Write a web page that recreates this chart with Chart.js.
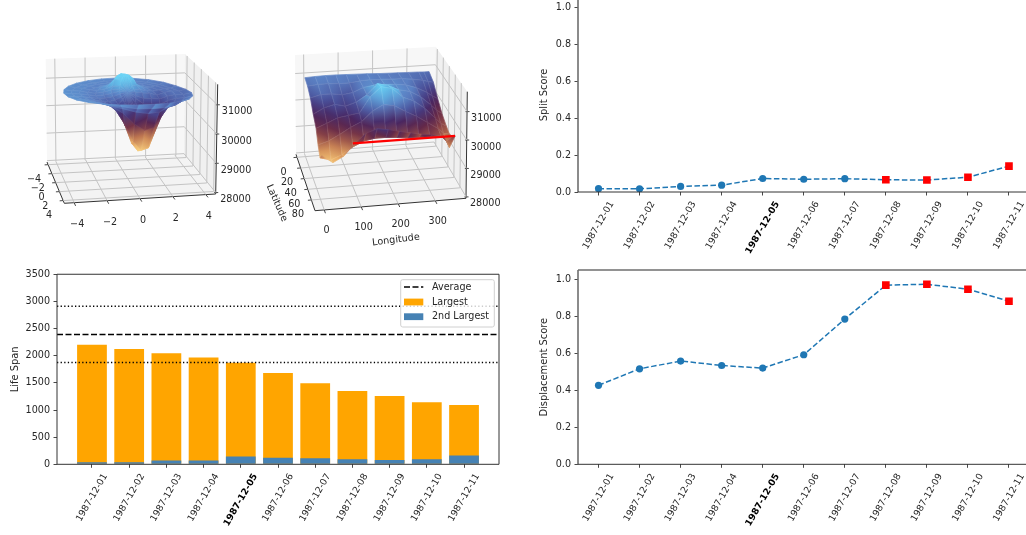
<!DOCTYPE html>
<html>
<head>
<meta charset="utf-8">
<title>Life span and scores</title>
<script src="https://cdn.jsdelivr.net/npm/chart.js@4"></script>
<style>
  html, body { margin: 0; width: 1026px; height: 535px; overflow: hidden; background: #fff; }
  canvas { position: absolute; filter: blur(0.35px); }
</style>
</head>
<body>
<canvas id="polarSurface" width="260" height="265" style="left:0;top:0"></canvas>
<canvas id="globeSurface" width="260" height="265" style="left:260px;top:0"></canvas>
<canvas id="lifeSpan" width="510" height="270" style="left:0;top:265px"></canvas>
<canvas id="splitScore" width="510" height="285" style="left:530px;top:-20px"></canvas>
<canvas id="displacementScore" width="510" height="280" style="left:530px;top:255px"></canvas>
<script>
const dates = ["1987-12-01", "1987-12-02", "1987-12-03", "1987-12-04", "1987-12-05", "1987-12-06",
    "1987-12-07", "1987-12-08", "1987-12-09", "1987-12-10", "1987-12-11"];
const boldDate = 4;
const largest = [2200, 2125, 2045, 1965, 1870, 1680, 1495, 1350, 1260, 1145, 1090];
const secondLargest = [40, 40, 70, 70, 145, 120, 110, 95, 80, 95, 160];
const averageSpan = 2390;
const spanBand = [1875, 2910];
const splitScores = [0.018, 0.017, 0.03, 0.037, 0.073, 0.069, 0.072, 0.066, 0.065, 0.08, 0.14];
const displacementScores = [0.427, 0.516, 0.558, 0.534, 0.52, 0.592, 0.785, 0.968, 0.973, 0.946, 0.881];
const flaggedFrom = 7;

const heightTicks = [28000, 29000, 30000, 31000];
const polarTicks = [-4, -2, 0, 2, 4];
const lonTicks = [0, 100, 200, 300];
const latTicks = [0, 20, 40, 60, 80];

// left surface, heights on rings around the middle
const polarRadii = [0.5, 1, 1.5, 2, 2.5, 3, 3.5, 4];
const polarAngles = [0, 15, 30, 45, 60, 75, 90, 105, 120, 135, 150, 165, 180, 195, 210, 225, 240, 255, 270, 285, 300, 315, 330, 345];
const polarCentre = 30980;
const polarHeights = [
    [30850, 30770, 30640, 30520, 30470, 30470, 30480, 30570, 30670, 30770, 30850, 30950, 31030, 31090, 31185, 31370, 31450, 31500, 31500, 31430, 31330, 31150, 31040, 30960],
    [30740, 30580, 30300, 29900, 29500, 29460, 29750, 30150, 30475, 30655, 30795, 30880, 30960, 31050, 31155, 31370, 31470, 31520, 31500, 31460, 31340, 31115, 30985, 30905],
    [30730, 30580, 30150, 29550, 29180, 29120, 29400, 30000, 30480, 30690, 30780, 30855, 30915, 30965, 31035, 31105, 31180, 31210, 31205, 31150, 31090, 31015, 30925, 30865],
    [30700, 30580, 30250, 29700, 29250, 29200, 29550, 30150, 30580, 30770, 30830, 30880, 30900, 30925, 30970, 31010, 31040, 31060, 31060, 31030, 30980, 30930, 30860, 30775],
    [30785, 30720, 30560, 30300, 30000, 29950, 30200, 30560, 30770, 30850, 30900, 30925, 30950, 30950, 30950, 30950, 30960, 30975, 30975, 30960, 30930, 30900, 30860, 30840],
    [30835, 30805, 30750, 30670, 30580, 30590, 30670, 30790, 30865, 30930, 30950, 30990, 30990, 30990, 30990, 30980, 30970, 30960, 30960, 30950, 30930, 30900, 30870, 30860],
    [30825, 30820, 30810, 30780, 30780, 30810, 30840, 30920, 30965, 31000, 31010, 31010, 31010, 31000, 30990, 30980, 30970, 30965, 30960, 30940, 30920, 30890, 30850, 30840],
    [30880, 30900, 30920, 30950, 30980, 31010, 31030, 31040, 31040, 31040, 31040, 31040, 31040, 31030, 31020, 31010, 31000, 30995, 30990, 30970, 30950, 30920, 30880, 30870],
];

// right surface, heights by latitude and longitude
const surfaceLons = [0, 30, 60, 90, 120, 150, 180, 210, 240, 270, 300, 330, 345, 360];
const surfaceLats = [0, 15, 30, 45, 60, 70, 80, 90];
const surfaceHeights = [
    [30920, 30940, 30950, 30950, 30940, 30930, 30920, 30900, 30890, 30880, 30870, 30860, 30850, 30850],
    [30860, 30900, 30900, 30880, 30880, 30930, 30950, 30940, 30920, 30910, 30870, 30800, 30740, 30700],
    [30680, 30780, 30780, 30720, 30780, 30940, 31000, 31000, 30980, 30930, 30800, 30600, 30450, 30350],
    [30350, 30550, 30650, 30560, 30680, 30920, 31300, 31200, 31020, 30940, 30720, 30380, 30180, 30050],
    [30100, 30250, 30420, 30480, 30540, 31100, 31430, 31340, 31000, 30840, 30550, 30150, 29950, 29850],
    [29680, 29800, 30000, 30220, 30400, 30750, 30950, 30880, 30650, 30450, 30200, 29950, 29750, 29750],
    [29400, 29300, 29450, 29700, 29880, 29950, 29950, 29920, 29880, 29860, 29860, 29850, 29650, 29800],
    [29650, 29375, 29580, 30000, 30315, 30450, 30390, 30300, 30220, 30140, 30090, 30010, 29600, 30000],
];
const ridgeLons = [84, 360];
const ridgeLat = 90;
const ridgeHeight = 30000;

const FONT = "'DejaVu Sans'";
const FONT_SIZE = 9.6;
const DATE_SIZE = 9.2;
const TITLE_SIZE = 9.9;
const TEXT = "#262626";
Chart.defaults.font.family = FONT;
Chart.defaults.font.size = FONT_SIZE;
Chart.defaults.color = TEXT;

const colorHeights = [29150, 29450, 29700, 29950, 30150, 30400, 30650, 30950, 31200, 31450];
const colorRamp = [[246, 205, 125], [232, 170, 100], [190, 118, 80], [135, 65, 70], [100, 40, 72], [72, 38, 98],
    [72, 76, 150], [92, 132, 198], [95, 175, 225], [105, 210, 245]];

function heightColor(z) {
    let i = 0;
    while (i < colorHeights.length - 2 && z > colorHeights[i + 1]) i++;
    let t = (z - colorHeights[i]) / (colorHeights[i + 1] - colorHeights[i]);
    t = Math.max(0, Math.min(1, t));
    const c = colorRamp[i].map((a, k) => Math.round(a + (colorRamp[i + 1][k] - a) * t));
    return `rgb(${c[0]},${c[1]},${c[2]})`;
}

function lerp(a, b, t) { return a + (b - a) * t; }

// box = floor and ceiling corners on the canvas: back left, back right, front left, front right
function boxProjector(box, xRange, yRange, zRange) {
    return function (x, y, z) {
        const u = (x - xRange[0]) / (xRange[1] - xRange[0]);
        const v = (y - yRange[0]) / (yRange[1] - yRange[0]);
        const w = (z - zRange[0]) / (zRange[1] - zRange[0]);
        const at = (k) => lerp(
            lerp(lerp(box.floor[0][k], box.floor[1][k], u), lerp(box.floor[2][k], box.floor[3][k], u), v),
            lerp(lerp(box.top[0][k], box.top[1][k], u), lerp(box.top[2][k], box.top[3][k], u), v), w);
        return { x: at(0), y: at(1) };
    };
}

function lineSet(points, color, width, order) {
    return { type: "scatter", showLine: true, data: points, borderColor: color, borderWidth: width,
        pointRadius: 0, order: order === undefined ? 1 : order };
}

function boxDatasets(p, xr, yr, zr, xTicks, yTicks, zTicks) {
    const grid = "#c4c4c4", axis = "#333", sets = [];
    xTicks.forEach((x) => {
        sets.push(lineSet([p(x, yr[1], zr[0]), p(x, yr[0], zr[0]), p(x, yr[0], zr[1])], grid, 1));
        const a = p(x, yr[1], zr[0]), b = p(x, yr[0], zr[0]);
        const d = Math.hypot(a.x - b.x, a.y - b.y);
        sets.push(lineSet([a, { x: a.x + (a.x - b.x) / d * 3.5, y: a.y + (a.y - b.y) / d * 3.5 }], axis, 0.9));
    });
    yTicks.forEach((y) => {
        sets.push(lineSet([p(xr[0], y, zr[0]), p(xr[1], y, zr[0]), p(xr[1], y, zr[1])], grid, 1));
        const a = p(xr[0], y, zr[0]), b = p(xr[1], y, zr[0]);
        const d = Math.hypot(a.x - b.x, a.y - b.y);
        sets.push(lineSet([a, { x: a.x + (a.x - b.x) / d * 3.5, y: a.y + (a.y - b.y) / d * 3.5 }], axis, 0.9));
    });
    zTicks.forEach((z) => {
        sets.push(lineSet([p(xr[0], yr[0], z), p(xr[1], yr[0], z), p(xr[1], yr[1], z)], grid, 1));
        const a = p(xr[1], yr[1], z);
        sets.push(lineSet([{ x: a.x - 1.5, y: a.y }, { x: a.x + 2.5, y: a.y }], axis, 0.9));
    });
    sets.push(lineSet([p(xr[0], yr[0], zr[0]), p(xr[0], yr[1], zr[0]), p(xr[1], yr[1], zr[0]), p(xr[1], yr[1], zr[1])], axis, 1));
    return sets;
}

function poly(chart, pts, fill) {
    const { ctx, scales } = chart;
    ctx.beginPath();
    pts.forEach((pt, i) => {
        const px = scales.x.getPixelForValue(pt.x), py = scales.y.getPixelForValue(pt.y);
        if (i === 0) ctx.moveTo(px, py); else ctx.lineTo(px, py);
    });
    ctx.closePath();
    ctx.fillStyle = fill;
    ctx.fill();
}

function drawPanes(chart, p, xr, yr, zr) {
    poly(chart, [p(xr[0], yr[0], zr[0]), p(xr[1], yr[0], zr[0]), p(xr[1], yr[0], zr[1]), p(xr[0], yr[0], zr[1])], "#f7f7f7");
    poly(chart, [p(xr[1], yr[0], zr[0]), p(xr[1], yr[1], zr[0]), p(xr[1], yr[1], zr[1]), p(xr[1], yr[0], zr[1])], "#f0f0f0");
    poly(chart, [p(xr[0], yr[0], zr[0]), p(xr[1], yr[0], zr[0]), p(xr[1], yr[1], zr[0]), p(xr[0], yr[1], zr[0])], "#f3f3f3");
}

// each quad is 4 corners {x,y,z} in data units, painted from the back forwards
function drawQuads(chart, quads, p, mesh) {
    const { ctx, scales } = chart;
    const sorted = quads.slice().sort((a, b) =>
        (a[0].y + a[1].y + a[2].y + a[3].y) - (b[0].y + b[1].y + b[2].y + b[3].y));
    ctx.save();
    ctx.lineWidth = 0.7;
    sorted.forEach((q) => {
        const pts = q.map((c) => {
            const s = p(c.x, c.y, c.z);
            return { px: scales.x.getPixelForValue(s.x), py: scales.y.getPixelForValue(s.y), z: c.z };
        });
        let low = pts[0], high = pts[0];
        pts.forEach((c) => { if (c.z < low.z) low = c; if (c.z > high.z) high = c; });
        let paint = heightColor(low.z);
        if (high.z - low.z > 1) {
            paint = ctx.createLinearGradient(low.px, low.py, high.px, high.py);
            paint.addColorStop(0, heightColor(low.z));
            paint.addColorStop(0.5, heightColor((low.z + high.z) / 2));
            paint.addColorStop(1, heightColor(high.z));
        }
        ctx.beginPath();
        pts.forEach((c, i) => { if (i === 0) ctx.moveTo(c.px, c.py); else ctx.lineTo(c.px, c.py); });
        ctx.closePath();
        ctx.fillStyle = paint;
        ctx.strokeStyle = paint;
        ctx.fill();
        ctx.stroke();
        ctx.strokeStyle = mesh;
        ctx.stroke();
    });
    ctx.restore();
}

function drawText(ctx, text, x, y, align, rotation) {
    ctx.save();
    ctx.translate(x, y);
    if (rotation) ctx.rotate(rotation * Math.PI / 180);
    ctx.font = `${FONT_SIZE}px ${FONT}`;
    ctx.fillStyle = TEXT;
    ctx.textAlign = align || "center";
    ctx.textBaseline = "middle";
    ctx.fillText(text, 0, 0);
    ctx.restore();
}

function minusText(v) { return String(v).replace("-", "\u2212"); }

function surfaceChart(id, cfg) {
    const { p, xr, yr, zr, quads, extra, mesh } = cfg;
    const datasets = boxDatasets(p, xr, yr, zr, cfg.xTicks, cfg.yTicks, cfg.zTicks);
    if (extra) datasets.push(extra);
    const canvas = document.getElementById(id);
    new Chart(canvas, {
        type: "scatter",
        data: { datasets },
        options: {
            responsive: false, animation: false, events: [],
            layout: { padding: 0, autoPadding: false },
            scales: {
                x: { type: "linear", display: false, min: 0, max: canvas.width },
                y: { type: "linear", display: false, min: 0, max: canvas.height, reverse: true },
            },
            plugins: { legend: { display: false }, tooltip: { enabled: false } },
        },
        plugins: [{
            id: "surface",
            beforeDatasetsDraw(chart) { drawPanes(chart, p, xr, yr, zr); },
            beforeDatasetDraw(chart, args) {
                if (extra && args.index === datasets.length - 1) drawQuads(chart, quads, p, mesh);
            },
            afterDatasetsDraw(chart) {
                if (!extra) drawQuads(chart, quads, p, mesh);
                cfg.labels(chart.ctx);
            },
        }],
    });
}

// left surface
const polarBox = {
    floor: [[47, 162], [184, 155], [64.3, 203.3], [215.7, 194]],
    top: [[45.7, 59], [185, 54], [62, 90], [217.7, 84.3]],
};
const polarXr = [-4.6, 4.6], polarYr = [-4.6, 4.6], heightRange = [27950, 31700];
const polarP = boxProjector(polarBox, polarXr, polarYr, heightRange);

function polarQuads() {
    const corner = (ri, ai) => {
        const a = polarAngles[ai % polarAngles.length] * Math.PI / 180;
        if (ri < 0) return { x: 0, y: 0, z: polarCentre };
        const r = polarRadii[ri];
        return { x: r * Math.cos(a), y: r * Math.sin(a), z: polarHeights[ri][ai % polarAngles.length] };
    };
    const quads = [];
    for (let r = -1; r < polarRadii.length - 1; r++) {
        for (let a = 0; a < polarAngles.length; a++) {
            quads.push([corner(r, a), corner(r, a + 1), corner(r + 1, a + 1), corner(r + 1, a)]);
        }
    }
    return quads;
}

surfaceChart("polarSurface", {
    p: polarP, xr: polarXr, yr: polarYr, zr: heightRange,
    xTicks: polarTicks, yTicks: polarTicks, zTicks: heightTicks,
    quads: polarQuads(),
    mesh: "rgba(255,255,255,0.06)",
    labels(ctx) {
        polarTicks.forEach((t) => {
            const a = polarP(t, polarYr[1], heightRange[0]);
            drawText(ctx, minusText(t), a.x + 3, a.y + 21.5);
            const b = polarP(polarXr[0], t, heightRange[0]);
            drawText(ctx, minusText(t), b.x - 14, b.y + 14.5);
        });
        heightTicks.forEach((t) => {
            const a = polarP(polarXr[1], polarYr[1], t);
            drawText(ctx, String(t), a.x + 4.5, a.y + 7, "left");
        });
    },
});

// right surface
const globeBox = {
    floor: [[296, 154.3], [434, 143.3], [315, 210.7], [466, 198.3]],
    top: [[295, 55], [435.7, 46.7], [313.5, 101.7], [467.3, 91.7]],
};
const lonRange = [-25, 383], latRange = [-5.6, 100.1];
const globeP = boxProjector(globeBox, lonRange, latRange, heightRange);

function globeQuads() {
    const corner = (i, j) => ({ x: surfaceLons[j], y: surfaceLats[i], z: surfaceHeights[i][j] });
    const quads = [];
    for (let i = 0; i < surfaceLats.length - 1; i++) {
        for (let j = 0; j < surfaceLons.length - 1; j++) {
            quads.push([corner(i, j), corner(i, j + 1), corner(i + 1, j + 1), corner(i + 1, j)]);
        }
    }
    return quads;
}

surfaceChart("globeSurface", {
    p: (x, y, z) => { const s = globeP(x, y, z); return { x: s.x - 260, y: s.y }; },
    xr: lonRange, yr: latRange, zr: heightRange,
    xTicks: lonTicks, yTicks: latTicks, zTicks: heightTicks,
    quads: globeQuads(),
    mesh: "rgba(255,255,255,0.1)",
    extra: lineSet(ridgeLons.map((lon) => {
        const s = globeP(lon, ridgeLat, ridgeHeight);
        return { x: s.x - 260, y: s.y };
    }), "#ff0000", 2.2, 0),
    labels(ctx) {
        lonTicks.forEach((t) => {
            const a = globeP(t, latRange[1], heightRange[0]);
            drawText(ctx, String(t), a.x - 260 + 2.4, a.y + 20.5);
        });
        latTicks.forEach((t) => {
            const a = globeP(lonRange[0], t, heightRange[0]);
            drawText(ctx, String(t), a.x - 260 - 13.5, a.y + 15);
        });
        heightTicks.forEach((t) => {
            const a = globeP(lonRange[1], latRange[1], t);
            drawText(ctx, String(t), a.x - 260 + 4, a.y + 7, "left");
        });
        drawText(ctx, "Longitude", 136, 240, "center", -7);
        drawText(ctx, "Latitude", 16.7, 203, "center", 66);
    },
});

// 2d panels
function drawDateLabels(chart) {
    const { ctx, scales } = chart;
    const sin = Math.sin(Math.PI / 3), cos = Math.cos(Math.PI / 3);
    dates.forEach((d, i) => {
        ctx.save();
        ctx.font = `${i === boldDate ? "bold " : ""}${DATE_SIZE}px ${FONT}`;
        const w = ctx.measureText(d).width;
        const h = w * sin + DATE_SIZE * cos;
        ctx.translate(scales.x.getPixelForValue(i), scales.x.top + 8 + h / 2);
        ctx.rotate(-Math.PI / 3);
        ctx.fillStyle = i === boldDate ? "#000" : TEXT;
        ctx.textAlign = "center";
        ctx.textBaseline = "middle";
        ctx.fillText(d, 0, 0);
        ctx.restore();
    });
}

function drawFrame(chart, sides) {
    const { ctx, chartArea: a } = chart;
    ctx.save();
    sides.forEach(([x1, y1, x2, y2, color, width]) => {
        ctx.beginPath();
        ctx.moveTo(lerp(a.left, a.right, x1), lerp(a.top, a.bottom, y1));
        ctx.lineTo(lerp(a.left, a.right, x2), lerp(a.top, a.bottom, y2));
        ctx.strokeStyle = color;
        ctx.lineWidth = width;
        ctx.stroke();
    });
    ctx.restore();
}

function yAxis(title, width, titlePad, extra) {
    return Object.assign({
        afterFit(scale) { scale.width = width; },
        border: { display: false },
        grid: { drawOnChartArea: false, tickLength: 3.5, tickColor: "#333", tickWidth: 0.9 },
        title: { display: true, text: title, font: { size: TITLE_SIZE }, padding: { top: titlePad, bottom: 0 } },
    }, extra);
}

function scoreChart(id, values, title, areaTop, areaBottom, titlePad, frame) {
    const canvas = document.getElementById(id);
    new Chart(canvas, {
        type: "line",
        data: {
            labels: dates,
            datasets: [{
                data: values,
                borderColor: "#1f77b4", borderWidth: 1.5, borderDash: [5.5, 2.5],
                tension: 0,
                pointStyle: values.map((v, i) => (i >= flaggedFrom ? "rect" : "circle")),
                pointRadius: values.map((v, i) => (i >= flaggedFrom ? 5.4 : 3.6)),
                pointBackgroundColor: values.map((v, i) => (i >= flaggedFrom ? "#ff0000" : "#1f77b4")),
                pointBorderWidth: 0,
            }],
        },
        options: {
            responsive: false, animation: false, events: [],
            layout: { autoPadding: false, padding: { left: 0, top: areaTop, right: 10.5, bottom: 0 } },
            scales: {
                x: {
                    offset: true,
                    afterFit(scale) { scale.height = canvas.height - areaBottom; },
                    border: { display: false },
                    ticks: { display: false },
                    grid: { drawOnChartArea: false, tickLength: 3.5, tickColor: "#333", tickWidth: 0.9 },
                },
                y: yAxis(title, 48, titlePad, {
                    min: 0, max: 1.05,
                    ticks: { stepSize: 0.2, padding: 3.5, includeBounds: false, callback: (v) => v.toFixed(1) },
                }),
            },
            plugins: { legend: { display: false }, tooltip: { enabled: false } },
        },
        plugins: [{
            id: "dateLabels",
            afterDraw(chart) { drawFrame(chart, frame); drawDateLabels(chart); },
        }],
    });
}

scoreChart("splitScore", splitScores, "Split Score", 18, 212, 8.5,
    [[0, 0, 0, 1, "#6e6e6e", 1.6], [0, 1, 1, 1, "#333", 1]]);
scoreChart("displacementScore", displacementScores, "Displacement Score", 15, 209.3, 8.5,
    [[0, 0, 0, 1, "#6e6e6e", 1.6], [0, 0, 1, 0, "#6e6e6e", 1.6], [0, 1, 1, 1, "#333", 1]]);

// bar panel
const barSpan = [-0.94, 10.94];
const bandLines = spanBand.map((v) => barSpan.map((x) => ({ x, y: v })));
const lifeCanvas = document.getElementById("lifeSpan");
new Chart(lifeCanvas, {
    type: "bar",
    data: {
        datasets: [
            { type: "line", label: "Average", data: barSpan.map((x) => ({ x, y: averageSpan })),
                borderColor: "#000", borderWidth: 1.5, borderDash: [6, 2.5], pointRadius: 0, order: 1 },
            { type: "line", data: bandLines[0], borderColor: "#000", borderWidth: 1.4,
                borderDash: [1.3, 2.3], pointRadius: 0, order: 1 },
            { type: "line", data: bandLines[1], borderColor: "#000", borderWidth: 1.4,
                borderDash: [1.3, 2.3], pointRadius: 0, order: 1 },
            { label: "Largest", data: largest.map((y, x) => ({ x, y })), backgroundColor: "#ffa500",
                barPercentage: 0.8, categoryPercentage: 1, order: 3 },
            { label: "2nd Largest", data: secondLargest.map((y, x) => ({ x, y })), backgroundColor: "#4682b4",
                barPercentage: 0.8, categoryPercentage: 1, order: 2 },
        ],
    },
    options: {
        responsive: false, animation: false, events: [],
        layout: { autoPadding: false, padding: { left: 0, top: 9, right: 11, bottom: 0 } },
        scales: {
            x: {
                type: "linear", stacked: true, offset: false, min: barSpan[0], max: barSpan[1],
                afterFit(scale) { scale.height = 270 - 199.3; },
                afterBuildTicks(scale) { scale.ticks = scale.ticks.filter((t) => Number.isInteger(t.value)); },
                border: { display: false },
                ticks: { display: false, stepSize: 1, includeBounds: false, autoSkip: false },
                grid: { offset: false, drawOnChartArea: false, tickLength: 3.5, tickColor: "#333", tickWidth: 0.9 },
            },
            y: yAxis("Life Span", 57, 9, {
                min: 0, max: 3500, stacked: false,
                ticks: { stepSize: 500, padding: 3.5, callback: (v) => String(v) },
            }),
        },
        plugins: { legend: { display: false }, tooltip: { enabled: false } },
    },
    plugins: [{
        id: "lifeDecor",
        afterDraw(chart) {
            drawFrame(chart, [[0, 0, 1, 0, "#333", 1], [1, 0, 1, 1, "#333", 1], [0, 1, 1, 1, "#333", 1], [0, 0, 0, 1, "#333", 1]]);
            drawDateLabels(chart);
            const ctx = chart.ctx, sets = chart.data.datasets;
            ctx.save();
            ctx.beginPath();
            ctx.roundRect(400.7, 14.7, 93.6, 47.3, 2);
            ctx.fillStyle = "rgba(255,255,255,0.8)";
            ctx.fill();
            ctx.strokeStyle = "#d0d0d0";
            ctx.lineWidth = 1;
            ctx.stroke();
            ctx.beginPath();
            ctx.moveTo(404, 22);
            ctx.lineTo(423.3, 22);
            ctx.setLineDash([6, 2.5]);
            ctx.strokeStyle = "#000";
            ctx.lineWidth = 1.5;
            ctx.stroke();
            ctx.setLineDash([]);
            ctx.fillStyle = sets[3].backgroundColor;
            ctx.fillRect(404, 33.6, 19.3, 6.8);
            ctx.fillStyle = sets[4].backgroundColor;
            ctx.fillRect(404, 48.3, 19.3, 6.8);
            ctx.restore();
            drawText(ctx, sets[0].label, 432, 22, "left");
            drawText(ctx, sets[3].label, 432, 37, "left");
            drawText(ctx, sets[4].label, 432, 51.7, "left");
        },
    }],
});
</script>
</body>
</html>
